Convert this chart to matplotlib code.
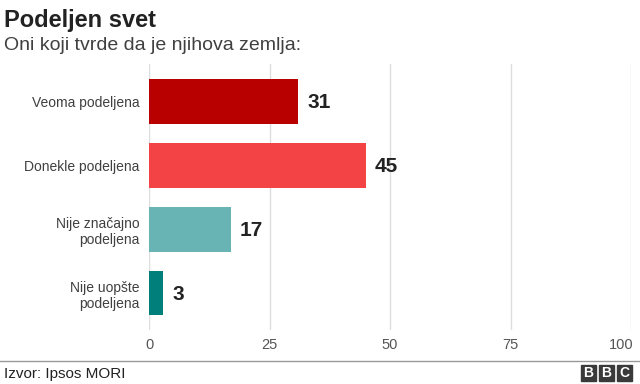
"""Podeljen svet - horizontal bar chart in BBC style."""

import matplotlib
matplotlib.use("Agg")
import matplotlib.pyplot as plt
from matplotlib.patches import Rectangle
from matplotlib.transforms import ScaledTranslation

plt.rcParams["font.family"] = ["Liberation Sans", "DejaVu Sans"]

CATEGORIES = ["Veoma podeljena", "Donekle podeljena", "Nije značajno\npodeljena", "Nije uopšte\npodeljena"]
VALUES = [31, 45, 17, 3]
COLORS = ["#b80000", "#f44344", "#68b3b3", "#017f7b"]
TICKS = [0, 25, 50, 75, 100]

TITLE = "Podeljen svet"
SUBTITLE = "Oni koji tvrde da je njihova zemlja:"
SOURCE = "Izvor: Ipsos MORI"


def main() -> None:
    fig = plt.figure(figsize=(6.4, 3.84), dpi=100)
    W, H = 640, 384
    left, right, top, bottom = 149, 631, 64, 330
    ax = fig.add_axes([left / W, 1 - bottom / H, (right - left) / W, (bottom - top) / H])

    ypos = list(range(len(CATEGORIES)))
    ax.barh(ypos, VALUES, height=0.7, color=COLORS, zorder=3)
    for y, v in zip(ypos, VALUES):
        ax.text(v + 1.8, y + 0.02, str(v), va="center", ha="left", fontsize=15,
                fontweight="bold", color="#222222")

    ax.set_xlim(0, 100)
    ax.set_ylim(3.58, -0.59)
    ax.set_xticks(TICKS)
    ax.set_xticklabels([str(t) for t in TICKS])
    ax.set_yticks(ypos)
    ax.set_yticklabels(CATEGORIES, fontsize=10, color="#404040")
    ax.tick_params(axis="y", length=0, pad=7)
    ax.tick_params(axis="x", length=0, pad=6, labelsize=10.5, labelcolor="#555555")
    last = ax.get_xticklabels()[-1]
    last.set_horizontalalignment("right")
    last.set_transform(last.get_transform() + ScaledTranslation(3 / 100, 0, fig.dpi_scale_trans))
    ax.grid(axis="x", color="#dddddd", linewidth=1, zorder=0)
    for s in ax.spines.values():
        s.set_visible(False)

    fig.text(4 / W, 1 - 20 / H, TITLE, fontsize=17, fontweight="bold",
             color="#222222", va="center", ha="left")
    fig.text(4 / W, 1 - 45 / H, SUBTITLE, fontsize=14, color="#404040",
             va="center", ha="left")

    fig.add_artist(plt.Line2D([0, 1], [1 - 361 / H, 1 - 361 / H], color="#999999",
                              linewidth=1, transform=fig.transFigure))
    fig.text(4 / W, 1 - 374 / H, SOURCE, fontsize=11, color="#222222",
             va="center", ha="left")

    for i, letter in enumerate("BBC"):
        x0 = 581 + i * 18
        fig.add_artist(Rectangle((x0 / W, 1 - 381 / H), 15 / W, 16 / H,
                                 transform=fig.transFigure, color="#3a3a3a"))
        fig.text((x0 + 7.5) / W, 1 - 373 / H, letter, fontsize=10, fontweight="bold",
                 color="white", ha="center", va="center")

    fig.savefig("out.png", dpi=100)


if __name__ == "__main__":
    main()
